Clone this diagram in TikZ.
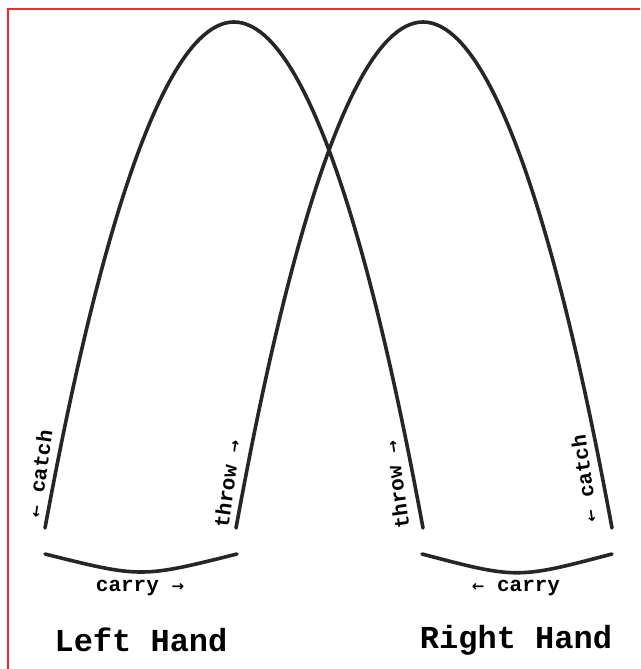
\documentclass[tikz,border=0pt]{standalone}
\usepackage{fontspec}
\setmonofont{Liberation Mono}
\newfontfamily\arrowfont{DejaVu Sans}
\usepackage{tikz}
\usetikzlibrary{positioning,calc}

\newcommand{\rarr}{{\arrowfont\fontsize{15}{15}\selectfont →}}
\newcommand{\larr}{{\arrowfont\fontsize{15}{15}\selectfont ←}}

\begin{document}
\begin{tikzpicture}[
  x=1pt, y=-1pt,
  path/.style={line width=3.6pt, draw=black!85, line cap=round},
  small/.style={font=\fontsize{21}{24}\selectfont\ttfamily\bfseries, inner sep=0pt},
  hand/.style={font=\fontsize{32}{36}\selectfont\ttfamily\bfseries, inner sep=0pt}
]
\useasboundingbox (0,0) rectangle (640,669);
\draw[red!85, line width=2.6pt] (8,669) -- (8,9) -- (640,9);

% ends of the throws and catches
\coordinate (lcatch) at (45,528);
\coordinate (lthrow) at (236,528);
\coordinate (rthrow) at (423,528);
\coordinate (rcatch) at (612,528);
\coordinate (lpeak) at (234,22);
\coordinate (rpeak) at (423,22);

\draw[path] (lcatch) parabola bend (lpeak) (rthrow);
\draw[path] (lthrow) parabola bend (rpeak) (rcatch);

% carries
\coordinate (lcarryA) at (45,554);
\coordinate (lcarryB) at (237,554);
\coordinate (rcarryA) at (422,554);
\coordinate (rcarryB) at (612,554);
\draw[path] (lcarryA) .. controls (141,578) .. (lcarryB);
\draw[path] (rcarryA) .. controls (517,579) .. (rcarryB);

\node[small, rotate=82] (lcatchlbl) at (39,474) {\larr\ catch};
\node[small, rotate=82] (lthrowlbl) at (227,484) {throw \rarr};
\node[small, rotate=98] (rthrowlbl) at (396,485) {throw \rarr};
\node[small, rotate=98] (rcatchlbl) at (584,479) {\larr\ catch};

\node[small] (lcarrylbl) at (140,588) {carry \rarr};
\node[small] (rcarrylbl) at (516,588) {\larr\ carry};

\node[hand] (left) at (141,640) {Left Hand};
\node[hand] (right) at (516,640) {Right Hand};
\end{tikzpicture}
\end{document}
